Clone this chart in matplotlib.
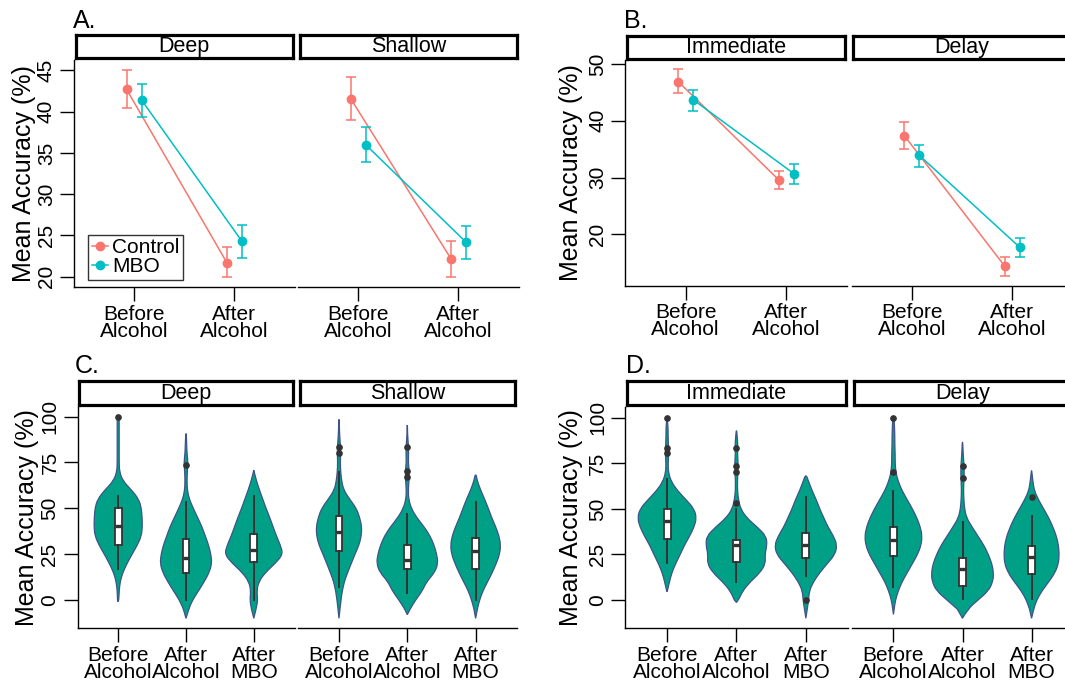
import matplotlib
matplotlib.use('Agg')
import matplotlib.pyplot as plt
import numpy as np
from matplotlib.path import Path
from matplotlib.patches import PathPatch
from matplotlib.lines import Line2D

plt.rcParams['font.family'] = ['Liberation Sans', 'DejaVu Sans']

# ---------------- data: panels A/B (means with error bars) ----------------
timepoints = ['Before\nAlcohol', 'After\nAlcohol']
groups = ['Control', 'MBO']
group_colors = ['#F8766D', '#00BFC4']

deep_control_mean = [42.7, 21.7]
deep_control_low = [40.5, 19.9]
deep_control_high = [45.0, 23.6]
deep_mbo_mean = [41.4, 24.3]
deep_mbo_low = [39.4, 22.3]
deep_mbo_high = [43.4, 26.3]

shallow_control_mean = [41.6, 22.2]
shallow_control_low = [39.0, 20.0]
shallow_control_high = [44.2, 24.3]
shallow_mbo_mean = [36.0, 24.2]
shallow_mbo_low = [33.9, 22.1]
shallow_mbo_high = [38.1, 26.1]

immediate_control_mean = [46.9, 29.6]
immediate_control_low = [44.8, 27.9]
immediate_control_high = [49.1, 31.2]
immediate_mbo_mean = [43.7, 30.7]
immediate_mbo_low = [41.7, 28.9]
immediate_mbo_high = [45.5, 32.4]

delay_control_mean = [37.4, 14.4]
delay_control_low = [35.0, 12.6]
delay_control_high = [39.8, 16.0]
delay_mbo_mean = [33.9, 17.7]
delay_mbo_low = [31.9, 16.0]
delay_mbo_high = [35.7, 19.4]

# ---------------- data: panels C/D (violins + boxplots) ----------------
conditions = ['Before\nAlcohol', 'After\nAlcohol', 'After\nMBO']
density_levels = [-10, -5, 0, 5, 10, 15, 20, 25, 30, 35, 40, 45, 50,
                  55, 60, 65, 70, 75, 80, 85, 90, 95, 100]

# relative density (half width) at each level; tips = (lowest, highest) extent
deep_before_density = [0, 0, 2, 3, 6, 14, 27, 42, 58, 70, 73, 72, 70, 62, 40, 14, 4, 3, 3, 3, 3, 3, 3]
deep_before_tips = (-1, 101)
deep_after_density = [0, 8, 20, 38, 55, 70, 78, 75, 68, 58, 48, 35, 22, 10, 4, 3, 4, 6, 3, 2, 1, 0, 0]
deep_after_tips = (-10, 91)
deep_mbo_density = [0, 7, 12, 9, 15, 35, 65, 88, 80, 68, 58, 48, 37, 27, 17, 8, 1, 0, 0, 0, 0, 0, 0]
deep_mbo_tips = (-10, 71)

shallow_before_density = [0, 3, 6, 10, 16, 26, 37, 48, 60, 67, 68, 62, 52, 32, 14, 8, 5, 4, 5, 4, 2, 1, 0]
shallow_before_tips = (-10, 100)
shallow_after_density = [0, 8, 25, 45, 58, 82, 92, 88, 80, 68, 50, 28, 12, 4, 3, 5, 6, 3, 4, 3, 1, 0.3, 0]
shallow_after_tips = (-8, 95.5)
shallow_mbo_density = [0, 5, 12, 22, 36, 50, 62, 72, 75, 70, 60, 48, 38, 27, 15, 5, 0, 0, 0, 0, 0, 0, 0]
shallow_mbo_tips = (-10, 69.5)

immediate_before_density = [0, 0, 0, 1, 7, 14, 25, 38, 50, 65, 78, 85, 78, 55, 30, 12, 4, 3, 5, 4, 3, 3, 2]
immediate_before_tips = (4.6, 100)
immediate_after_density = [0, 0, 6, 18, 40, 68, 84, 82, 88, 86, 60, 30, 12, 6, 3, 3, 4, 5, 3, 4, 2, 0, 0]
immediate_after_tips = (-1.3, 94)
immediate_mbo_density = [0, 4, 8, 10, 22, 40, 62, 84, 90, 80, 64, 52, 40, 30, 18, 8, 0, 0, 0, 0, 0, 0, 0]
immediate_mbo_tips = (-10, 69.1)

delay_before_density = [0, 2, 6, 14, 25, 40, 55, 70, 80, 83, 78, 68, 55, 40, 25, 14, 7, 5, 5, 4, 4, 3, 2]
delay_before_tips = (-7.9, 100.5)
delay_after_density = [0, 15, 45, 75, 88, 90, 85, 75, 62, 45, 28, 12, 6, 4, 3, 4, 5, 4, 2, 1, 0, 0, 0]
delay_after_tips = (-10, 87.2)
delay_mbo_density = [0, 6, 15, 30, 50, 68, 78, 80, 78, 72, 62, 50, 35, 20, 8, 4, 1, 0, 0, 0, 0, 0, 0]
delay_mbo_tips = (-10, 71.3)

# box statistics: whisker low, q1, median, q3, whisker high, outliers
deep_before_box = (16.7, 30.0, 40.2, 50.0, 56.7, [100.0])
deep_after_box = (0.0, 14.5, 23.1, 33.5, 53.3, [73.5])
deep_mbo_box = (0.0, 20.9, 27.3, 36.0, 56.5, [])
shallow_before_box = (6.9, 26.9, 36.9, 46.0, 70.0, [80.4, 83.6])
shallow_after_box = (3.6, 16.7, 21.8, 30.0, 46.7, [66.9, 70.5, 83.6])
shallow_mbo_box = (0.0, 16.7, 26.9, 33.6, 53.3, [])
immediate_before_box = (20.1, 33.3, 43.5, 49.9, 66.4, [80.4, 83.2, 100.0])
immediate_after_box = (10.0, 20.7, 30.3, 33.0, 49.7, [53.4, 70.4, 73.5, 83.2])
immediate_mbo_box = (13.3, 23.2, 30.2, 36.6, 56.3, [0.0])
delay_before_box = (7.0, 24.1, 32.9, 39.9, 60.0, [70.4, 100.0])
delay_after_box = (0.4, 7.7, 16.8, 22.9, 43.0, [66.7, 73.5])
delay_mbo_box = (0.4, 14.3, 23.8, 29.8, 46.3, [56.7])

# ---------------- figure helpers ----------------
W, H = 1065, 690
fig = plt.figure(figsize=(W / 100, H / 100), dpi=100)
FS = 15
SFS = 15.5
DARK = '#333333'


def px_axes(x0, y0, x1, y1):
    return fig.add_axes([x0 / W, 1 - y1 / H, (x1 - x0) / W, (y1 - y0) / H])


def style(ax, first, xlabels, xlim, ylim, yticks):
    ax.set_facecolor('none')
    ax.spines['top'].set_visible(False)
    ax.spines['right'].set_visible(False)
    ax.spines['left'].set_visible(first)
    ax.spines['bottom'].set_linewidth(1.0)
    ax.spines['left'].set_linewidth(1.0)
    ax.set_xlim(*xlim)
    ax.set_ylim(*ylim)
    ax.set_xticks(np.arange(1, len(xlabels) + 1))
    ax.set_xticklabels(xlabels, fontsize=FS, linespacing=0.86)
    ax.tick_params(axis='x', length=10, width=1.0, pad=2.5)
    if first:
        ax.set_yticks(yticks)
        ax.set_yticklabels([str(t) for t in yticks], fontsize=FS,
                           rotation=90, va='center')
        ax.tick_params(axis='y', length=10, width=1.0, pad=3)
    else:
        ax.set_yticks([])


def strip(x0, x1, y0, y1, text):
    sa = px_axes(x0 + 1.5, y0 + 1.5, x1 - 1.5, y1 - 1.5)
    sa.set_xticks([])
    sa.set_yticks([])
    sa.set_facecolor('white')
    for s in sa.spines.values():
        s.set_linewidth(2.3)
        s.set_color('black')
    sa.text(0.5, 0.25, text, ha='center', va='baseline', fontsize=SFS,
            transform=sa.transAxes)


def line_facet(ax, series):
    offsets = [-0.075, 0.075]
    for gi, (mean, lo, hi) in enumerate(series):
        x = np.arange(1, len(mean) + 1) + offsets[gi]
        mean = np.asarray(mean)
        ax.plot(x, mean, color=group_colors[gi], lw=1.1, zorder=2)
        ax.errorbar(x, mean,
                    yerr=[mean - np.asarray(lo), np.asarray(hi) - mean],
                    fmt='o', color=group_colors[gi], ms=6, capsize=3.3,
                    elinewidth=1.1, capthick=1.1, zorder=3)


def smooth_closed_path(pts):
    verts = [pts[0]]
    codes = [Path.MOVETO]
    n = len(pts)
    for i in range(1, n - 1):
        mid = ((pts[i][0] + pts[i + 1][0]) / 2, (pts[i][1] + pts[i + 1][1]) / 2)
        verts += [pts[i], mid]
        codes += [Path.CURVE3, Path.CURVE3]
    verts.append(pts[-1])
    codes.append(Path.LINETO)
    verts.append(pts[0])
    codes.append(Path.CLOSEPOLY)
    return Path(verts, codes)


def violin(ax, pos, density, tips, scale):
    lo, hi = tips
    lv = [(y, d) for y, d in zip(density_levels, density) if lo < y < hi]
    right = [(pos + d * scale, y) for y, d in lv]
    left = [(pos - d * scale, y) for y, d in lv][::-1]
    pts = [(pos, lo)] + right + [(pos, hi)] + left
    path = smooth_closed_path(pts)
    ax.add_patch(PathPatch(path, facecolor='#00A087', edgecolor='#3C5488',
                           lw=0.9, zorder=1))


def box(ax, pos, b):
    wl, q1, med, q3, wh, fl = b
    stats = [dict(med=med, q1=q1, q3=q3, whislo=wl, whishi=wh, fliers=fl)]
    ax.bxp(stats, positions=[pos], widths=0.1, patch_artist=True,
           showcaps=False, manage_ticks=False,
           boxprops=dict(facecolor='white', edgecolor=DARK, linewidth=1.3),
           medianprops=dict(color=DARK, linewidth=2.4),
           whiskerprops=dict(color=DARK, linewidth=1.4),
           flierprops=dict(marker='o', markerfacecolor=DARK,
                           markeredgecolor=DARK, markersize=3.8),
           zorder=2)


def violin_facet(ax, dens_list, tips_list, box_list, scale):
    for i, (d, t, b) in enumerate(zip(dens_list, tips_list, box_list)):
        violin(ax, i + 1, d, t, scale)
        box(ax, i + 1, b)


# ---------------- Panel A ----------------
A_y = (59.5, 287.3)
axA1 = px_axes(74, A_y[0], 294.5, A_y[1])
axA2 = px_axes(298, A_y[0], 518.5, A_y[1])
line_facet(axA1, [(deep_control_mean, deep_control_low, deep_control_high),
                  (deep_mbo_mean, deep_mbo_low, deep_mbo_high)])
line_facet(axA2, [(shallow_control_mean, shallow_control_low, shallow_control_high),
                  (shallow_mbo_mean, shallow_mbo_low, shallow_mbo_high)])
A_ticks = [20, 25, 30, 35, 40, 45]
style(axA1, True, timepoints, (0.4, 2.6), (18.71, 46.33), A_ticks)
style(axA2, False, timepoints, (0.4, 2.6), (18.71, 46.33), A_ticks)
strip(74, 294.5, 33, 59.5, 'Deep')
strip(298, 518.5, 33, 59.5, 'Shallow')

handles = [Line2D([], [], color=c, marker='o', ms=6, lw=1.1) for c in group_colors]
leg = axA1.legend(handles, groups, loc='lower left',
                  bbox_to_anchor=(88.3 / W, 1 - 280 / H),
                  bbox_transform=fig.transFigure, borderaxespad=0,
                  fontsize=FS, frameon=True, fancybox=False, handlelength=0.75,
                  handletextpad=0.2, labelspacing=0.0, borderpad=0.18)
leg.get_frame().set_edgecolor('black')
leg.get_frame().set_linewidth(1.0)

# ---------------- Panel B ----------------
B_y = (60, 286)
axB1 = px_axes(625.4, B_y[0], 846.5, B_y[1])
axB2 = px_axes(851.5, B_y[0], 1072.5, B_y[1])
line_facet(axB1, [(immediate_control_mean, immediate_control_low, immediate_control_high),
                  (immediate_mbo_mean, immediate_mbo_low, immediate_mbo_high)])
line_facet(axB2, [(delay_control_mean, delay_control_low, delay_control_high),
                  (delay_mbo_mean, delay_mbo_low, delay_mbo_high)])
B_ticks = [20, 30, 40, 50]
style(axB1, True, timepoints, (0.4, 2.6), (10.89, 50.70), B_ticks)
style(axB2, False, timepoints, (0.4, 2.6), (10.89, 50.70), B_ticks)
strip(625.4, 846.5, 34, 60, 'Immediate')
strip(851.5, 1072.5, 34, 60, 'Delay')

# ---------------- Panel C ----------------
V_y = (406.7, 628.3)
V_ticks = [0, 25, 50, 75, 100]
axC1 = px_axes(77.5, V_y[0], 294.5, V_y[1])
axC2 = px_axes(298, V_y[0], 516.6, V_y[1])
C_dens = [deep_before_density, deep_after_density, deep_mbo_density,
          shallow_before_density, shallow_after_density, shallow_mbo_density]
C_scale = 0.45 / max(max(d) for d in C_dens)
violin_facet(axC1, C_dens[:3], [deep_before_tips, deep_after_tips, deep_mbo_tips],
             [deep_before_box, deep_after_box, deep_mbo_box], C_scale)
violin_facet(axC2, C_dens[3:], [shallow_before_tips, shallow_after_tips, shallow_mbo_tips],
             [shallow_before_box, shallow_after_box, shallow_mbo_box], C_scale)
style(axC1, True, conditions, (0.4, 3.6), (-15.43, 105.4), V_ticks)
style(axC2, False, conditions, (0.4, 3.6), (-15.43, 105.4), V_ticks)
strip(77.5, 294.5, 379, 406.7, 'Deep')
strip(298, 516.6, 379, 406.7, 'Shallow')

# ---------------- Panel D ----------------
axD1 = px_axes(625.4, V_y[0], 847.5, V_y[1])
axD2 = px_axes(852, V_y[0], 1073, V_y[1])
D_dens = [immediate_before_density, immediate_after_density, immediate_mbo_density,
          delay_before_density, delay_after_density, delay_mbo_density]
D_scale = 0.45 / max(max(d) for d in D_dens)
violin_facet(axD1, D_dens[:3], [immediate_before_tips, immediate_after_tips, immediate_mbo_tips],
             [immediate_before_box, immediate_after_box, immediate_mbo_box], D_scale)
violin_facet(axD2, D_dens[3:], [delay_before_tips, delay_after_tips, delay_mbo_tips],
             [delay_before_box, delay_after_box, delay_mbo_box], D_scale)
style(axD1, True, conditions, (0.4, 3.6), (-15.5, 106.0), V_ticks)
style(axD2, False, conditions, (0.4, 3.6), (-15.5, 106.0), V_ticks)
strip(625.4, 847.5, 379, 406.7, 'Immediate')
strip(852, 1073, 379, 406.7, 'Delay')

# ---------------- labels ----------------
ylab = 'Mean Accuracy (%)'
fig.text(24 / W, 1 - 173.4 / H, ylab, rotation=90, ha='center', va='center', fontsize=18)
fig.text(571 / W, 1 - 173 / H, ylab, rotation=90, ha='center', va='center', fontsize=18)
fig.text(27 / W, 1 - 517.5 / H, ylab, rotation=90, ha='center', va='center', fontsize=18)
fig.text(571 / W, 1 - 517.5 / H, ylab, rotation=90, ha='center', va='center', fontsize=18)

for lbl, x, y in [('A.', 73, 28), ('B.', 624, 28), ('C.', 75, 373), ('D.', 626, 373)]:
    fig.text(x / W, 1 - y / H, lbl, ha='left', va='baseline', fontsize=18)

fig.savefig('out.png', dpi=100)
